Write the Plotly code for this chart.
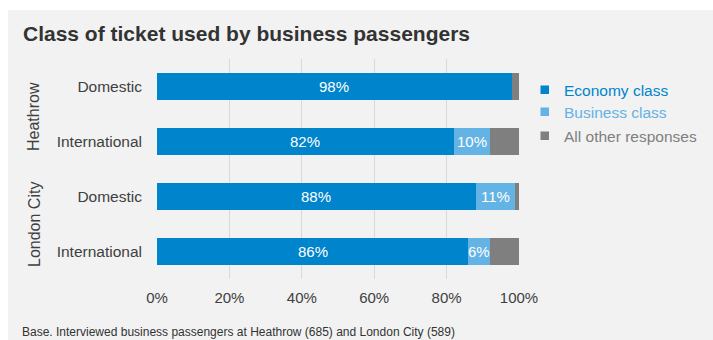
import plotly.graph_objects as go

categories = ["International ", "Domestic ", "International", "Domestic"]  # bottom to top
category_text = ["International", "Domestic", "International", "Domestic"]
groups = ["London City", "Heathrow"]
economy = [86, 88, 82, 98]
business = [6, 11, 10, 0]
other = [8, 1, 8, 2]
series_names = ["Economy class", "Business class", "All other responses"]
tick_vals = [0, 20, 40, 60, 80, 100]
tick_text = ["0%", "20%", "40%", "60%", "80%", "100%"]

C_ECO = "#0084cc"
C_BUS = "#63b3e4"
C_OTH = "#7f7f7f"
TXT = "#404040"
FONT = "Liberation Sans, Arial, sans-serif"
colors = [C_ECO, C_BUS, C_OTH]

fig = go.Figure()
for name, vals, col in zip(series_names, [economy, business, other], colors):
    fig.add_trace(go.Bar(y=categories, x=vals, orientation="h", name=name,
                         marker=dict(color=col, line=dict(width=0)),
                         showlegend=False, hoverinfo="skip"))

# bar value labels
for i, cat in enumerate(categories):
    e, b = economy[i], business[i]
    fig.add_annotation(x=e / 2, y=cat, text=f"{e}%", showarrow=False,
                       font=dict(color="white", size=15, family=FONT))
    if b > 0:
        fig.add_annotation(x=e + b / 2, y=cat, text=f"{b}%", showarrow=False,
                           font=dict(color="white", size=15, family=FONT))

W, H = 713, 340
L, R, T, B = 157, 194, 59, 61
pw, ph = W - L - R, H - T - B

def px(x):
    return (x - L) / pw

def py(y):
    return (H - B - y) / ph

# grey panel
fig.add_shape(type="rect", xref="paper", yref="paper", x0=px(8), x1=px(713), y0=py(340), y1=py(10),
              fillcolor="#f2f2f2", line=dict(width=0), layer="below")

# legend (drawn manually)
leg_y = [90, 112, 136]
for name, col, yy in zip(series_names, colors, leg_y):
    fig.add_shape(type="rect", xref="paper", yref="paper", x0=px(540.5), x1=px(549),
                  y0=py(yy + 4), y1=py(yy - 4.5), fillcolor=col, line=dict(width=0))
    fig.add_annotation(xref="paper", yref="paper", x=px(562), y=py(yy), xanchor="left", yanchor="middle",
                       text=name, showarrow=False, font=dict(size=15.5, color=col, family=FONT))

fig.add_annotation(xref="paper", yref="paper", x=px(21), y=py(33), xanchor="left", yanchor="middle",
                   text="<b>Class of ticket used by business passengers</b>", showarrow=False,
                   font=dict(size=21, color="#333333", family=FONT))
fig.add_annotation(xref="paper", yref="paper", x=px(34), y=py(116), xanchor="center", yanchor="middle",
                   text=groups[1], textangle=-90,
                   showarrow=False, font=dict(size=16, color=TXT, family=FONT))
fig.add_annotation(xref="paper", yref="paper", x=px(34), y=py(224), xanchor="center", yanchor="middle",
                   text=groups[0], textangle=-90,
                   showarrow=False, font=dict(size=16, color=TXT, family=FONT))
fig.add_annotation(xref="paper", yref="paper", x=px(20), y=py(323), xanchor="left", yanchor="top",
                   text="Base. Interviewed business passengers at Heathrow (685) and London City (589)",
                   showarrow=False, font=dict(size=12, color="#333333", family=FONT))

fig.update_layout(
    width=W, height=H, margin=dict(l=L, r=R, t=T, b=B, autoexpand=False),
    barmode="stack", bargap=0.5, showlegend=False,
    paper_bgcolor="white", plot_bgcolor="rgba(0,0,0,0)",
    font=dict(family=FONT, color=TXT, size=15),
    xaxis=dict(range=[0, 100], tickvals=tick_vals, ticktext=tick_text, showgrid=True, gridcolor="#d9d9d9",
               gridwidth=1, zeroline=False, showline=False, ticklabelstandoff=8, fixedrange=True,
               tickfont=dict(size=15, color=TXT)),
    yaxis=dict(categoryorder="array", categoryarray=categories, tickvals=categories, ticktext=category_text,
               showgrid=False, zeroline=False, ticklabelstandoff=14, range=[-0.5, 3.5],
               tickfont=dict(size=15.5, color=TXT)),
)
fig.write_html("out.html")
